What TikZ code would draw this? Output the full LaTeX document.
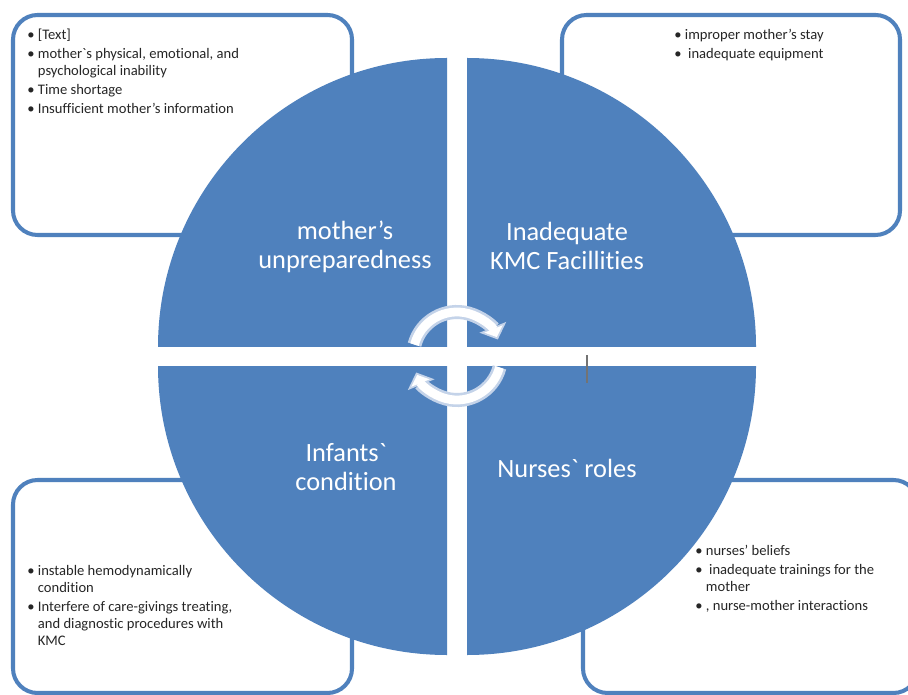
\documentclass[tikz,border=0pt]{standalone}
\usepackage{fontspec}
\setmainfont{Carlito}[Ligatures={NoCommon}]
\usetikzlibrary{arrows.meta}
\definecolor{kmcblue}{RGB}{79,129,189}
\definecolor{arrowrim}{RGB}{196,211,233}
\newcommand{\bul}{\textbullet\ }
\newcommand{\ind}{\phantom{\textbullet\ }}
\tikzset{
  infobox/.style={draw=kmcblue, line width=2.3pt, rounded corners=14pt, fill=white},
  bullets/.style={anchor=north west, inner sep=0pt, align=left, text=black!85, font=\fontsize{8.3}{9.7}\selectfont},
  quadlabel/.style={text=white, align=center, font=\fontsize{15}{16.6}\selectfont},
  cyclerim/.style={draw=arrowrim, line width=8pt, -{Triangle[width=16pt,length=7.5pt]}},
  cyclefill/.style={draw=white, line width=5pt, -{Triangle[width=11pt,length=5pt]}, shorten >=1.5pt}
}
\begin{document}
\begin{tikzpicture}[x=0.02cm, y=-0.02cm]
            \clip (0,0) rectangle (908,695);
            \fill[white] (0,0) rectangle (908,695);

            \draw[infobox] (13,15) rectangle (352,235);
            \draw[infobox] (562,15) rectangle (900,235);
            \draw[infobox] (13,480) rectangle (352,693);
            \draw[infobox] (583,480) rectangle (918,693);

            \foreach \cx/\cy/\ex/\ey in {447/347/0/0, 467/347/908/0, 447/366/0/695, 467/366/908/695} {
                \begin{scope}
                    \clip (\cx,\cy) rectangle (\ex,\ey);
                    \fill[kmcblue] (\cx,\cy) circle[radius=289];
                \end{scope}
            }

            \draw (27,29) node[bullets] (tlist) {\bul [Text]\\[1pt] \bul mother\textasciigrave s physical, emotional, and\\ \ind psychological inability\\[1pt] \bul Time shortage\\[1pt] \bul Insufficient mother's information};
            \draw (674,29) node[bullets] (rlist) {\bul improper mother's stay\\[1pt] \bul\ inadequate equipment};
            \draw (27,565) node[bullets] (blist) {\bul instable hemodynamically\\ \ind condition\\[1pt] \bul Interfere of care-givings treating,\\ \ind and diagnostic procedures with\\ \ind KMC};
            \draw (695,545) node[bullets] (nlist) {\bul nurses' beliefs\\[1pt] \bul\ inadequate trainings for the\\ \ind mother\\[1pt] \bul , nurse-mother interactions};

            \draw (345,247) node[quadlabel] (mother) {mother's\\unpreparedness};
            \draw (567,246) node[quadlabel] (facility) {Inadequate\\KMC Facillities};
            \draw (346,467) node[quadlabel] (infant) {Infants\textasciigrave\\condition};
            \draw (567,468) node[quadlabel] (nurse) {Nurses\textasciigrave{} roles};

            \coordinate (hub) at (457,356);
            \draw[cyclerim] ([shift={(195:44)}]hub) arc[start angle=195, end angle=338, radius=44];
            \draw[cyclefill] ([shift={(195:44)}]hub) arc[start angle=195, end angle=338, radius=44];
            \draw[cyclerim] ([shift={(15:44)}]hub) arc[start angle=15, end angle=158, radius=44];
            \draw[cyclefill] ([shift={(15:44)}]hub) arc[start angle=15, end angle=158, radius=44];

            \draw[black!55, line width=0.9pt] (587,355) -- (587,383);
        \end{tikzpicture}
\end{document}
